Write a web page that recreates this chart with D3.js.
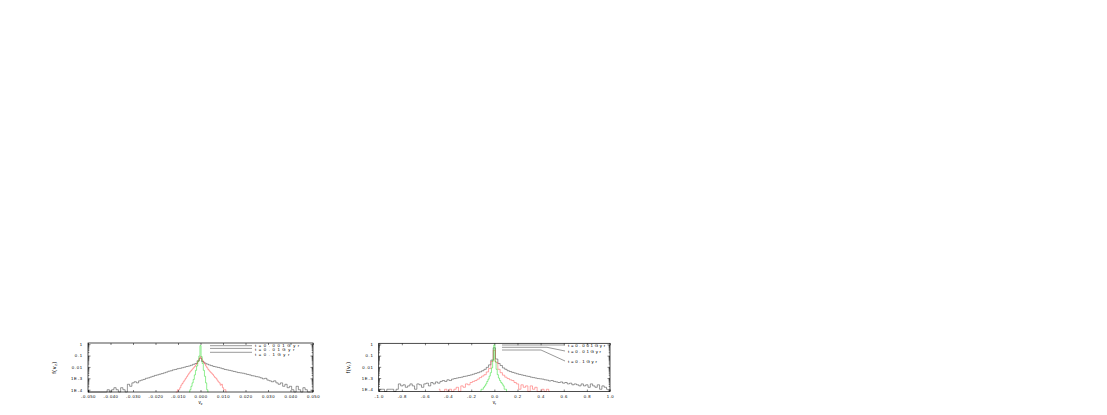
<!DOCTYPE html>
<html>
<head>
<meta charset="utf-8">
<script src="https://cdn.jsdelivr.net/npm/d3@7"></script>
<style>
  html, body { margin: 0; padding: 0; background: #fff; }
  svg { display: block; }
</style>
</head>
<body>
<svg id="chart" width="1107" height="415"></svg>
<script>
// ---- data (fractions per bin, 0 = empty bin) ----
const yTicks = [1, 0.1, 0.01, 1e-3, 1e-4];
const yLabels = ["1", "0.1", "0.01", "1E-3", "1E-4"];
const legendLabels = ["t=0.001Gyr", "t=0.01Gyr", "t=0.1Gyr"];

// left panel : v_z
const leftXTicks = [-0.05, -0.04, -0.03, -0.02, -0.01, 0, 0.01, 0.02, 0.03, 0.04, 0.05];
const leftXLabels = ["-0.050", "-0.040", "-0.030", "-0.020", "-0.010", "0.000", "0.010", "0.020", "0.030", "0.040", "0.050"];

// bin centres -0.050 .. 0.049, step 0.001
const leftBlack = [
  0, 0, 0, 0, 0, 0, 0, 0, 0, 1e-4,
  0, 1e-4, 1.5e-4, 1e-4, 0, 1.5e-4, 1e-4, 0, 3e-4, 2e-4,
  4e-4, 5e-4, 4e-4, 6e-4, 7e-4, 8e-4, 1e-3, 1.1e-3, 1.3e-3, 1.5e-3,
  1.8e-3, 2e-3, 2.3e-3, 2.6e-3, 3e-3, 3.5e-3, 4.2e-3, 4.6e-3, 5.5e-3, 6e-3,
  7e-3, 7.5e-3, 8.5e-3, 9.5e-3, 0.011, 0.012, 0.014, 0.017, 0.02, 0.035,
  0.06, 0.03, 0.022, 0.018, 0.015, 0.013, 0.011, 0.01, 9e-3, 8e-3,
  7e-3, 6e-3, 5.5e-3, 5e-3, 4.5e-3, 4e-3, 3.6e-3, 3.2e-3, 3e-3, 2.8e-3,
  2.5e-3, 2.2e-3, 2e-3, 1.7e-3, 1.6e-3, 1.4e-3, 1.3e-3, 1.1e-3, 9e-4, 1e-3,
  7e-4, 6e-4, 5e-4, 6e-4, 4e-4, 3e-4, 4e-4, 2e-4, 3e-4, 1.5e-4,
  2e-4, 1e-4, 0, 2e-4, 1e-4, 0, 1.5e-4, 1e-4, 0, 0
];
// bin centres -0.0110 .. 0.0115, step 0.0005
const leftRed = [
  0, 0, 1e-4, 1e-4, 1.5e-4, 2.5e-4, 3.5e-4, 5e-4, 7e-4, 1e-3,
  1.4e-3, 2e-3, 2.8e-3, 3.8e-3, 5e-3, 6.5e-3, 8.5e-3, 0.011, 0.015, 0.02,
  0.03, 0.05, 0.08, 0.05, 0.035, 0.025, 0.018, 0.012, 8.5e-3, 6e-3,
  4.5e-3, 3.5e-3, 2.8e-3, 2.2e-3, 1.6e-3, 1.2e-3, 1e-3, 7e-4, 5e-4, 4e-4,
  2.5e-4, 3e-4, 1.5e-4, 1e-4, 1e-4, 0
];
// bin centres -0.0050 .. 0.0035, step 0.0005
const leftGreen = [
  0, 1e-4, 2e-4, 4e-4, 8e-4, 2e-3, 5e-3, 0.012, 0.03, 0.09,
  0.75, 0.08, 0.02, 5e-3, 1.5e-3, 4e-4, 1e-4, 0
];

// right panel : v_r
const rightXTicks = [-1, -0.8, -0.6, -0.4, -0.2, 0, 0.2, 0.4, 0.6, 0.8, 1];
const rightXLabels = ["-1.0", "-0.8", "-0.6", "-0.4", "-0.2", "0.0", "0.2", "0.4", "0.6", "0.8", "1.0"];

// bin centres -1.00 .. 0.98, step 0.02
const rightBlack = [
  1e-4, 1e-4, 1e-4, 0, 1e-4, 1e-4, 1e-4, 0, 1e-4, 3e-4,
  2e-4, 2.5e-4, 1.5e-4, 2e-4, 3e-4, 2e-4, 1e-4, 3e-4, 2.5e-4, 1.5e-4,
  3e-4, 3.5e-4, 2e-4, 4e-4, 3e-4, 4.5e-4, 3.5e-4, 5e-4, 6e-4, 5e-4,
  7e-4, 6e-4, 8e-4, 9e-4, 1e-3, 1.1e-3, 1.2e-3, 1.4e-3, 1.5e-3, 1.7e-3,
  1.9e-3, 2.2e-3, 2.6e-3, 3e-3, 3.6e-3, 4.5e-3, 6e-3, 9e-3, 0.015, 0.04,
  0.5, 0.05, 0.02, 0.013, 8e-3, 6e-3, 4.5e-3, 3.8e-3, 3.2e-3, 2.8e-3,
  2.4e-3, 2.1e-3, 1.9e-3, 1.7e-3, 1.5e-3, 1.4e-3, 1.2e-3, 1.1e-3, 1e-3, 9e-4,
  8.5e-4, 8e-4, 7e-4, 6.5e-4, 5.5e-4, 6e-4, 5e-4, 4.5e-4, 4e-4, 4.5e-4,
  3.5e-4, 4e-4, 3e-4, 3.5e-4, 2.5e-4, 3e-4, 2.5e-4, 2e-4, 3e-4, 2e-4,
  2.5e-4, 1.5e-4, 3e-4, 2e-4, 1.5e-4, 2.5e-4, 1e-4, 2e-4, 1.5e-4, 1e-4
];
// bin centres -0.48 .. 0.48, step 0.02
const rightRed = [
  1e-4, 0, 0, 1e-4, 0, 1e-4, 0, 1e-4, 1.5e-4, 0,
  2e-4, 1.5e-4, 3e-4, 2.5e-4, 4e-4, 5e-4, 6e-4, 8e-4, 1.1e-3, 1.5e-3,
  2e-3, 3.5e-3, 7e-3, 0.03, 0.3, 0.025, 6e-3, 3e-3, 1.8e-3, 1.2e-3,
  9e-4, 7e-4, 6e-4, 4e-4, 3e-4, 1e-4, 2.5e-4, 1.5e-4, 2e-4, 0,
  2e-4, 1e-4, 1.5e-4, 0, 0, 1e-4, 0, 1e-4, 0
];
// bin centres -0.12 .. 0.11, step 0.01
const rightGreen = [
  0, 1e-4, 1e-4, 1.5e-4, 2e-4, 3e-4, 5e-4, 8e-4, 1.5e-3, 3e-3,
  8e-3, 0.04, 0.9, 0.03, 6e-3, 2e-3, 1e-3, 6e-4, 4e-4, 3e-4,
  2e-4, 1e-4, 1e-4, 0
];

// ---- panels ----
const panels = [
  {
    left: 88, right: 313, top: 343, bottom: 392,
    xDomain: [-0.05, 0.05], xTicks: leftXTicks, xLabels: leftXLabels,
    xTitle: "z", yTitleX: 56,
    series: [
      {start: -0.05, step: 0.001, values: leftBlack, color: "#333"},
      {start: -0.011, step: 0.0005, values: leftRed, color: "#ff5050"},
      {start: -0.005, step: 0.0005, values: leftGreen, color: "#22dd22"}
    ],
    legend: {x0: 210, x1: 252, textX: 255, fontSize: 4.2, spacing: 2.6,
      lines: [[345.7, 345.7, 347], [348.4, 348.4, 351.4], [352.3, 352.3, 356.4]]}
  },
  {
    left: 378.7, right: 610, top: 343.3, bottom: 391.5,
    xDomain: [-1, 1], xTicks: rightXTicks, xLabels: rightXLabels,
    xTitle: "r", yTitleX: 350,
    series: [
      {start: -1, step: 0.02, values: rightBlack, color: "#333"},
      {start: -0.48, step: 0.02, values: rightRed, color: "#ff5050"},
      {start: -0.12, step: 0.01, values: rightGreen, color: "#22dd22"}
    ],
    legend: {x0: 502, x1: 565, textX: 568, fontSize: 4.4, spacing: 1.7, bend: true,
      lines: [[345, 345, 347.4], [347.3, 351, 353.4], [350, 361, 363.4]]}
  }
];

const svg = d3.select("#chart");
const font = "'Liberation Sans', Arial, sans-serif";
const yDomain = [Math.pow(10, -4.2), Math.pow(10, 0.1)];
const minorTicks = [];
for (let e = -5; e <= 0; e++) {
  for (let m = 2; m <= 9; m++) {
    const v = m * Math.pow(10, e);
    if (v > yDomain[0] && v < yDomain[1]) minorTicks.push(v);
  }
}

panels.forEach(p => {
  const x = d3.scaleLinear().domain(p.xDomain).range([p.left, p.right]);
  const y = d3.scaleLog().domain(yDomain).range([p.bottom, p.top]);
  const g = svg.append("g");

  // histograms as steps, empty bins drop to the bottom edge
  const line = d3.line()
    .x(d => x(d[0]))
    .y(d => d[1] > 0 ? y(d[1]) : p.bottom)
    .curve(d3.curveStep);

  p.series.forEach(s => {
    const pts = s.values.map((v, i) => [s.start + i * s.step, v]);
    g.append("path")
      .attr("d", line(pts))
      .attr("fill", "none")
      .attr("stroke", s.color)
      .attr("stroke-width", 0.5);
  });

  // frame
  g.append("rect")
    .attr("x", p.left).attr("y", p.top)
    .attr("width", p.right - p.left).attr("height", p.bottom - p.top)
    .attr("fill", "none").attr("stroke", "#000").attr("stroke-width", 0.7);

  const styleAxis = sel => {
    sel.select(".domain").remove();
    sel.selectAll("line").attr("stroke-width", 0.5);
    sel.attr("font-family", font).attr("font-size", 4.2);
  };

  // bottom + top
  g.append("g").attr("transform", `translate(0,${p.bottom})`)
    .call(d3.axisBottom(x).tickValues(p.xTicks).tickFormat((d, i) => p.xLabels[i])
      .tickSizeInner(-2).tickPadding(3.5))
    .call(styleAxis)
    .selectAll("text").attr("letter-spacing", 0.5);
  g.append("g").attr("transform", `translate(0,${p.top})`)
    .call(d3.axisTop(x).tickValues(p.xTicks).tickFormat("").tickSizeInner(-2))
    .call(styleAxis);

  // left + right, major and minor
  g.append("g").attr("transform", `translate(${p.left},0)`)
    .call(d3.axisLeft(y).tickValues(yTicks).tickFormat((d, i) => yLabels[i])
      .tickSizeInner(-2.5).tickPadding(5))
    .call(styleAxis)
    .selectAll("text").attr("letter-spacing", 0.8);
  g.append("g").attr("transform", `translate(${p.left},0)`)
    .call(d3.axisLeft(y).tickValues(minorTicks).tickFormat("").tickSizeInner(-1.3))
    .call(styleAxis);
  g.append("g").attr("transform", `translate(${p.right},0)`)
    .call(d3.axisRight(y).tickValues(yTicks).tickFormat("").tickSizeInner(-2.5))
    .call(styleAxis);
  g.append("g").attr("transform", `translate(${p.right},0)`)
    .call(d3.axisRight(y).tickValues(minorTicks).tickFormat("").tickSizeInner(-1.3))
    .call(styleAxis);

  // axis titles
  const xt = g.append("text")
    .attr("x", x(0)).attr("y", p.bottom + 12)
    .attr("text-anchor", "middle")
    .attr("font-family", font).attr("font-size", 4.6);
  xt.append("tspan").text("v");
  xt.append("tspan").attr("font-size", 3.3).attr("dy", 1).text(p.xTitle);

  const yt = g.append("text")
    .attr("transform", `translate(${p.yTitleX},${(p.top + p.bottom) / 2}) rotate(-90)`)
    .attr("text-anchor", "middle")
    .attr("font-family", font).attr("font-size", 5.5)
    .attr("letter-spacing", 0.5);
  yt.append("tspan").text("f(v");
  yt.append("tspan").attr("font-size", 4).attr("dy", 1).text(p.xTitle);
  yt.append("tspan").attr("dy", -1).text(")");

  // legend with leader lines
  const L = p.legend;
  L.lines.forEach((ln, i) => {
    const pts = L.bend
      ? [[L.x0, ln[0]], [L.x1 - 12 - i * 6, ln[0]], [L.x1, ln[1]]]
      : [[L.x0, ln[0]], [L.x1, ln[1]]];
    g.append("path")
      .attr("d", d3.line()(pts))
      .attr("fill", "none").attr("stroke", "#333").attr("stroke-width", 0.5);
    g.append("text")
      .attr("x", L.textX).attr("y", ln[2])
      .attr("font-family", font).attr("font-size", L.fontSize)
      .attr("letter-spacing", L.spacing)
      .text(legendLabels[i]);
  });
});
</script>
</body>
</html>
